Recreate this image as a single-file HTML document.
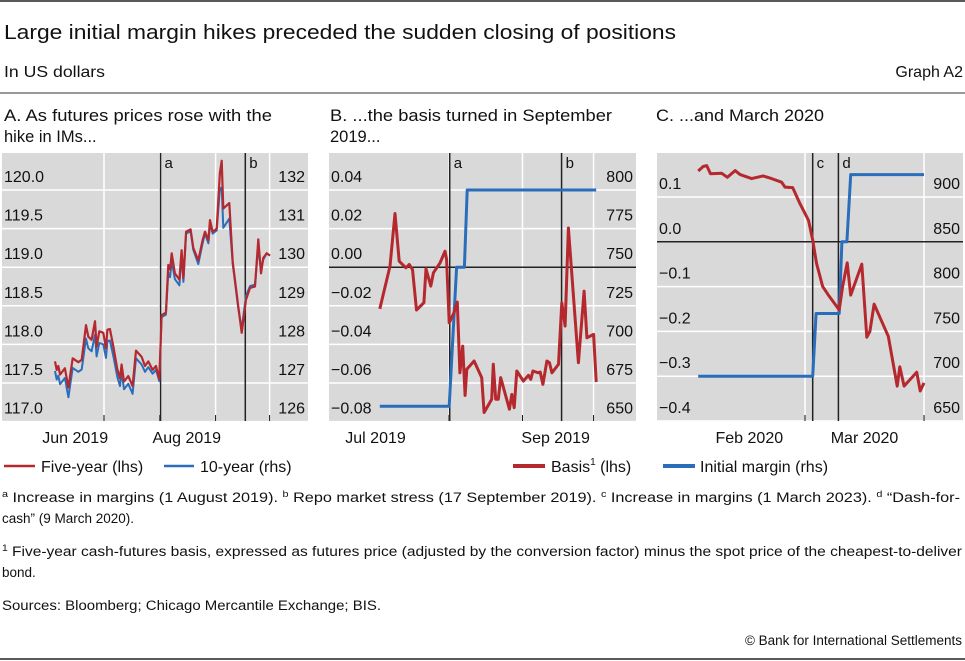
<!DOCTYPE html>
<html><head><meta charset="utf-8"><style>
html,body{margin:0;padding:0;background:#fff;}
svg{display:block;font-family:"Liberation Sans",sans-serif;}
</style></head><body>
<svg id="chart" width="965" height="661" viewBox="0 0 965 661" xmlns="http://www.w3.org/2000/svg">
<line x1="0" y1="1" x2="965" y2="1" stroke="#222" stroke-width="1.5"/>
<text x="4" y="39" font-size="20.5" fill="#111" textLength="672" lengthAdjust="spacingAndGlyphs">Large initial margin hikes preceded the sudden closing of positions</text>
<text x="4" y="77" font-size="16" fill="#111" textLength="101" lengthAdjust="spacingAndGlyphs">In US dollars</text>
<text x="963" y="77" font-size="16" fill="#111" text-anchor="end">Graph A2</text>
<line x1="0" y1="93" x2="965" y2="93" stroke="#333" stroke-width="1"/>
<text x="4" y="121" font-size="16.5" fill="#111" textLength="268" lengthAdjust="spacingAndGlyphs">A. As futures prices rose with the</text>
<text x="4" y="142" font-size="16.5" fill="#111">hike in IMs...</text>
<text x="330" y="121" font-size="16.5" fill="#111" textLength="282" lengthAdjust="spacingAndGlyphs">B. ...the basis turned in September</text>
<text x="330" y="142" font-size="16.5" fill="#111">2019...</text>
<text x="656" y="121" font-size="16.5" fill="#111" textLength="168" lengthAdjust="spacingAndGlyphs">C. ...and March 2020</text>
<g id="panels"></g>
<!-- legends -->
<line x1="4" y1="466" x2="35" y2="466" stroke="#b5282e" stroke-width="2.5"/>
<text x="41" y="472" font-size="16" fill="#111">Five-year (lhs)</text>
<line x1="164" y1="466" x2="194" y2="466" stroke="#2a6ebb" stroke-width="2.5"/>
<text x="200" y="472" font-size="16" fill="#111">10-year (rhs)</text>
<line x1="513" y1="466" x2="545" y2="466" stroke="#b5282e" stroke-width="4"/>
<text x="551" y="472" font-size="16" fill="#111">Basis<tspan font-size="10" dy="-7">1</tspan><tspan dy="7"> (lhs)</tspan></text>
<line x1="663" y1="466" x2="695" y2="466" stroke="#2a6ebb" stroke-width="4"/>
<text x="700" y="472" font-size="16" fill="#111">Initial margin (rhs)</text>
<!-- footnotes -->
<text x="2" y="502" font-size="13.5" fill="#111" textLength="958" lengthAdjust="spacingAndGlyphs"><tspan font-size="9" dy="-5">a</tspan><tspan dy="5">  Increase in margins (1 August 2019).   </tspan><tspan font-size="9" dy="-5">b</tspan><tspan dy="5">  Repo market stress (17 September 2019).   </tspan><tspan font-size="9" dy="-5">c</tspan><tspan dy="5">  Increase in margins (1 March 2023).   </tspan><tspan font-size="9" dy="-5">d</tspan><tspan dy="5">  “Dash-for-</tspan></text>
<text x="2" y="523" font-size="13.5" fill="#111">cash” (9 March 2020).</text>
<text x="2" y="556" font-size="13.5" fill="#111" textLength="960" lengthAdjust="spacingAndGlyphs"><tspan font-size="9" dy="-5">1</tspan><tspan dy="5">  Five-year cash-futures basis, expressed as futures price (adjusted by the conversion factor) minus the spot price of the cheapest-to-deliver</tspan></text>
<text x="2" y="577" font-size="13.5" fill="#111">bond.</text>
<text x="2" y="610" font-size="13.5" fill="#111" textLength="379" lengthAdjust="spacingAndGlyphs">Sources: Bloomberg; Chicago Mercantile Exchange; BIS.</text>
<text x="962" y="645" font-size="13.5" fill="#111" text-anchor="end">© Bank for International Settlements</text>
<line x1="0" y1="659" x2="965" y2="659" stroke="#222" stroke-width="1.5"/>
</svg>
<script>
// Panel A data (days from 1 Jul 2019)
const aDays = [-27.2,-26.3,-25.4,-24.4,-21.7,-19.8,-17.4,-14.3,-12.4,-10,-8.7,-6.9,-5,-4.1,-2.6,-0.4,1.1,1.9,3.3,5.2,7.4,8.9,9.8,11.1,13.5,15.9,17.8,20.9,22.8,24.6,27,28.9,30.7,32,34.4,35.7,36.7,37.6,39.4,41.9,43.1,44.1,45.6,48.1,49.6,52.4,54.8,56.1,58,58.9,60.4,62.6,64.4,65.4,66.3,69.6,71.5,74.6,76.5,78.9,81.1,83.9,85.7,87.2,88.5,90.4,92.2];
const aFiveYear = [117.78,117.67,117.72,117.61,117.69,117.44,117.82,117.77,117.80,118.25,118.10,118.06,118.30,117.97,118.17,118.15,117.95,118.19,118.20,117.97,117.68,117.56,117.74,117.52,117.59,117.46,117.92,117.84,117.72,117.78,117.67,117.72,117.55,118.38,118.41,119.03,118.97,119.18,118.92,118.84,119.22,118.86,119.46,119.49,119.25,119.09,119.35,119.46,119.35,119.61,119.46,119.50,120.22,120.38,119.76,119.83,119.07,118.49,118.15,118.58,118.73,118.75,119.36,118.92,119.12,119.18,119.15];
const aTenYear = [127.31,127.09,127.19,126.97,127.13,126.63,127.39,127.29,127.35,128.15,127.90,127.82,128.25,127.69,128.04,128.00,127.65,128.08,128.10,127.69,127.16,126.92,127.28,126.84,126.98,126.72,127.64,127.48,127.29,127.41,127.24,127.34,127.05,128.71,128.77,129.86,129.74,130.16,129.69,129.53,130.34,129.62,130.87,130.93,130.45,130.08,130.62,130.87,130.62,131.12,130.87,130.95,132.04,132.06,131.02,131.26,130.09,128.93,128.40,129.26,129.51,129.55,130.52,129.94,130.20,130.36,130.30];
const aLeftTicks = [117.0,117.5,118.0,118.5,119.0,119.5,120.0];
const aRightTicks = [126,127,128,129,130,131,132];
const aMonthTicks = [0,31,62,92];
const aMonthLabels = ["Jun 2019","Aug 2019"];
const aMonthLabelDays = [-16,46];
const aEvents = [31.4,78.5];
const aEventLabels = ["a","b"];
// Panel B data (days from 1 Aug 2019)
const bDays = [-29.2,-24.9,-22.8,-21,-18.2,-16.8,-15.4,-13.7,-10.6,-9.7,-7.7,-6.6,-3.8,-1.7,-1,0.1,2.1,3.5,4.6,5.8,6.8,7.5,10.6,13.8,14.8,18,18.7,19.7,20.8,21.8,25.5,26.5,27.5,28.6,31.4,33.5,34.5,35.4,37.7,38.5,39.6,41.3,42.4,43.4,46.2,47.6,49,50.4,54.6,57,58.2,61,62.1];
const bBasis = [-0.0216,0.0005,0.0278,0.0031,-0.0003,0.0014,-0.0012,-0.0222,-0.0184,-0.0009,-0.0098,-0.0029,0.0022,0.0083,0.0040,-0.0288,-0.0236,-0.0181,-0.0547,-0.0409,-0.0664,-0.0529,-0.0486,-0.0572,-0.0753,-0.0684,-0.0503,-0.0684,-0.0684,-0.0572,-0.0736,-0.0659,-0.0728,-0.0538,-0.0590,-0.0560,-0.0581,-0.0538,-0.0547,-0.0543,-0.0607,-0.0486,-0.0495,-0.0547,-0.0503,-0.0184,-0.0305,0.0203,-0.0495,-0.0124,-0.0366,-0.0348,-0.0595];
const bMarginDays = [-29.2,0.1,3.2,6.5,7.7,62.1];
const bMargin = [660,660,750,750,800,800];
const bLeftTicks = [-0.08,-0.06,-0.04,-0.02,0.00,0.02,0.04];
const bRightTicks = [650,675,700,725,750,775,800];
const bMonthTicks = [0,31,61];
const bMonthLabels = ["Jul 2019","Sep 2019"];
const bMonthLabelDays = [-31,45];
const bEvents = [0.3,47.5];
const bEventLabels = ["a","b"];
// Panel C data (days from 1 Mar 2020)
const cDays = [-27.8,-26.5,-25.6,-24.6,-21.7,-20.2,-18.2,-16.9,-13.9,-10.9,-8.7,-6.1,-5.2,-3.2,-1.3,0.9,2,3,4.6,6.1,8.9,9.8,11,11.9,14.8,16.1,16.9,18,21.7,24,24.7,25.8,29.1,30,31];
const cBasis = [0.158,0.168,0.170,0.152,0.153,0.144,0.159,0.150,0.141,0.147,0.141,0.133,0.122,0.121,0.085,0.048,0.004,-0.048,-0.100,-0.119,-0.152,-0.100,-0.047,-0.119,-0.050,-0.213,-0.200,-0.139,-0.211,-0.322,-0.279,-0.322,-0.291,-0.333,-0.315];
const cMarginDays = [-27.8,2,2.9,8.9,9.6,10.9,11.9,31];
const cMargin = [700,700,770,770,850,850,925,925];
const cLeftTicks = [-0.4,-0.3,-0.2,-0.1,0.0,0.1];
const cRightTicks = [650,700,750,800,850,900];
const cMonthTicks = [0,31];
const cMonthLabels = ["Feb 2020","Mar 2020"];
const cMonthLabelDays = [-14.5,15.5];
const cEvents = [2,8.7];
const cEventLabels = ["c","d"];

const NS = "http://www.w3.org/2000/svg";
const root = document.getElementById("panels");
function mk(tag, attrs, parent){
  const e = document.createElementNS(NS, tag);
  for (const k in attrs) e.setAttribute(k, attrs[k]);
  (parent||root).appendChild(e);
  return e;
}
const TOP = 153, BOT = 421, RED = "#b5282e", BLUE = "#2a6ebb";

function panel(p){
  const g = mk("g", {});
  
  
  const xs = d => p.x0 + d * p.ppd;
  const yl = v => p.ly0 + (v - p.lv0) * p.lpx;
  const yr = v => p.ry0 + (v - p.rv0) * p.rpx;
  const bg = mk("rect", {x:p.left, y:TOP, width:p.right-p.left, height:BOT-TOP, fill:"#d9d9d9"}, g);
  
  
  p.left_ticks.forEach(v => {
    const y = yl(v);
    const gl = mk("line", {x1:p.left, x2:p.right, y1:y, y2:y, stroke:"#fff", "stroke-width":1.5}, g);
    
    
    const t = mk("text", {x:p.left+2, y:y-8, "font-size":16, fill:"#111"}, g);
    t.textContent = p.fmt(v);
    
    
  });
  p.right_ticks.forEach(v => {
    const y = yr(v);
    const t = mk("text", {x:p.right-3, y:y-8, "font-size":16, fill:"#111", "text-anchor":"end"}, g);
    t.textContent = String(v);
    
    
  });
  p.months.forEach(d => {
    const x = xs(d);
    const vl = mk("line", {x1:x, x2:x, y1:TOP, y2:BOT, stroke:"#fff", "stroke-width":1.5}, g);
    
    
    const tk = mk("line", {x1:x, x2:x, y1:BOT-6, y2:BOT, stroke:"#111", "stroke-width":1}, g);
    
    
  });
  p.monthLabels.forEach((s,i) => {
    const t = mk("text", {x:xs(p.monthLabelDays[i]), y:443, "font-size":16, fill:"#111", "text-anchor":"middle"}, g);
    t.textContent = s;
    
    
  });
  if (p.zero) {
    const z = mk("line", {x1:p.left, x2:p.right, y1:yl(0), y2:yl(0), stroke:"#222", "stroke-width":1.5}, g);
    
    
  }
  p.events.forEach((d,i) => {
    const x = xs(d);
    const l = mk("line", {x1:x, x2:x, y1:TOP, y2:BOT, stroke:"#222", "stroke-width":1.5}, g);
    
    
    const t = mk("text", {x:x+4, y:168, "font-size":15, fill:"#111"}, g);
    t.textContent = p.eventLabels[i];
    
    
  });
  p.series.forEach(s => {
    const y = s.axis === "l" ? yl : yr;
    const pts = s.xs.map((d,i) => xs(d).toFixed(1) + "," + y(s.ys[i]).toFixed(1)).join(" ");
    const pl = mk("polyline", {points:pts, fill:"none", stroke:s.color, "stroke-width":s.w, "stroke-linejoin":"round"}, g);
    
    
  });
}

panel({name:"panel-a", left:2, right:308, x0:104, ppd:1.8,
  ly0:421.6, lv0:117.0, lpx:-77.2, ry0:421.6, rv0:126, rpx:-38.6,
  left_ticks:aLeftTicks, right_ticks:aRightTicks, fmt:v=>v.toFixed(1),
  months:aMonthTicks, monthLabels:aMonthLabels, monthLabelDays:aMonthLabelDays,
  events:aEvents, eventLabels:aEventLabels, zero:false,
  series:[
    {name:"ten-year-line", xs:aDays, ys:aTenYear, axis:"r", color:BLUE, w:2},
    {name:"five-year-line", xs:aDays, ys:aFiveYear, axis:"l", color:RED, w:2.2}
  ]});
panel({name:"panel-b", left:329, right:636, x0:449, ppd:2.37,
  ly0:421.6, lv0:-0.08, lpx:-1930, ry0:421.6, rv0:650, rpx:-1.544,
  left_ticks:bLeftTicks, right_ticks:bRightTicks, fmt:v=>(v<0?"\u2212":"")+Math.abs(v).toFixed(2),
  months:bMonthTicks, monthLabels:bMonthLabels, monthLabelDays:bMonthLabelDays,
  events:bEvents, eventLabels:bEventLabels, zero:true,
  series:[
    {name:"initial-margin-line", xs:bMarginDays, ys:bMargin, axis:"r", color:BLUE, w:3},
    {name:"basis-line", xs:bDays, ys:bBasis, axis:"l", color:RED, w:3}
  ]});
panel({name:"panel-c", left:657, right:963, x0:805, ppd:3.84,
  ly0:421, lv0:-0.4, lpx:-448, ry0:421, rv0:650, rpx:-0.896,
  left_ticks:cLeftTicks, right_ticks:cRightTicks, fmt:v=>(v<0?"\u2212":"")+Math.abs(v).toFixed(1),
  months:cMonthTicks, monthLabels:cMonthLabels, monthLabelDays:cMonthLabelDays,
  events:cEvents, eventLabels:cEventLabels, zero:true,
  series:[
    {name:"initial-margin-line", xs:cMarginDays, ys:cMargin, axis:"r", color:BLUE, w:3},
    {name:"basis-line", xs:cDays, ys:cBasis, axis:"l", color:RED, w:3}
  ]});
</script>
</body></html>
